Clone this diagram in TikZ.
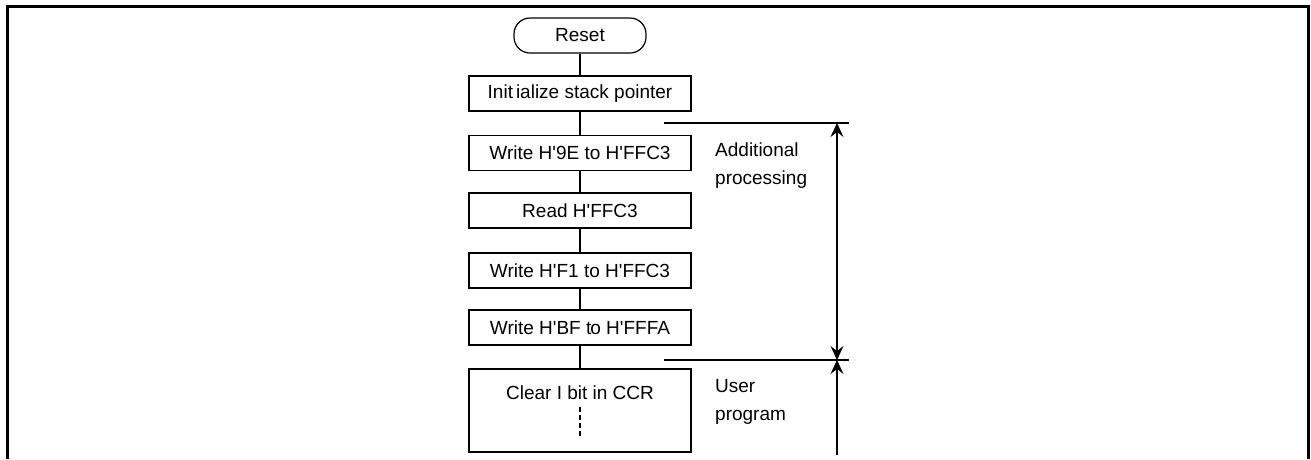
\documentclass[tikz,border=0pt]{standalone}
\usepackage{fontspec}
\setmainfont{Liberation Sans}
\usetikzlibrary{arrows.meta}
\newcommand{\apo}{\textquotesingle}
\begin{document}
\begin{tikzpicture}[x=1pt,y=-1pt,
  every node/.style={font=\fontsize{19}{23}\selectfont},
  procbox/.style={draw,line width=1.2pt,minimum width=222pt,minimum height=35pt,inner sep=0pt},
  termbox/.style={draw,line width=1.2pt,rounded corners=16pt,minimum width=132pt,minimum height=35pt,inner sep=0pt},
  flow/.style={line width=1.2pt},
  dimline/.style={line width=1.5pt},
  dimarrow/.style={line width=1.6pt,-{Stealth[length=14pt,width=13pt,inset=5pt]}},
  dimarrows/.style={line width=1.6pt,{Stealth[length=14pt,width=13pt,inset=5pt]}-{Stealth[length=14pt,width=13pt,inset=5pt]}},
  note/.style={anchor=west,inner sep=0pt,align=left,font=\fontsize{19}{28}\selectfont}]
\useasboundingbox (0,0) rectangle (1311,459);
\draw[line width=3pt] (7,459) -- (7,6) -- (1308,6) -- (1308,459);

\node[termbox] (reset) at (580,35.5) {Reset};
\node[procbox] (init) at (580,93.5) {Init\kern3pt ialize stack pointer};
\node[procbox] (w9e) at (580,153) {Write H\apo 9E to H\apo FFC3};
\node[procbox] (read) at (580,210.5) {Read H\apo FFC3};
\node[procbox] (wf1) at (580,270.5) {Write H\apo F1 to H\apo FFC3};
\node[procbox] (wbf) at (580,327.5) {Write H\apo BF t\kern-1pt o H\apo FFFA};
\node[procbox,minimum height=83pt] (clear) at (580,410.5) {};
\node[inner sep=0pt] (cleartxt) at (580,393) {Clear I bit in CCR};

\draw[flow] (reset) -- (init);
\draw[flow] (init) -- (w9e);
\draw[flow] (w9e) -- (read);
\draw[flow] (read) -- (wf1);
\draw[flow] (wf1) -- (wbf);
\draw[flow] (wbf) -- (clear);

\coordinate (d1) at (580,407);
\coordinate (d2) at (580,437);
\draw[flow,dash pattern=on 5pt off 3pt] (d1) -- (d2);

\coordinate (h1a) at (664,123);
\coordinate (h1b) at (849,123);
\coordinate (h2a) at (664,360);
\coordinate (h2b) at (849,360);
\draw[dimline] (h1a) -- (h1b);
\draw[dimline] (h2a) -- (h2b);

\coordinate (v1) at (837,123);
\coordinate (v2) at (837,360);
\coordinate (v3) at (837,455);
\draw[dimarrows] (v1) -- (v2);
\draw[dimarrow] (v3) -- (v2);

\node[note] (addl) at (715,166) {Additional\\processing};
\node[note] (user) at (715,402) {User\\program};
\end{tikzpicture}
\end{document}
